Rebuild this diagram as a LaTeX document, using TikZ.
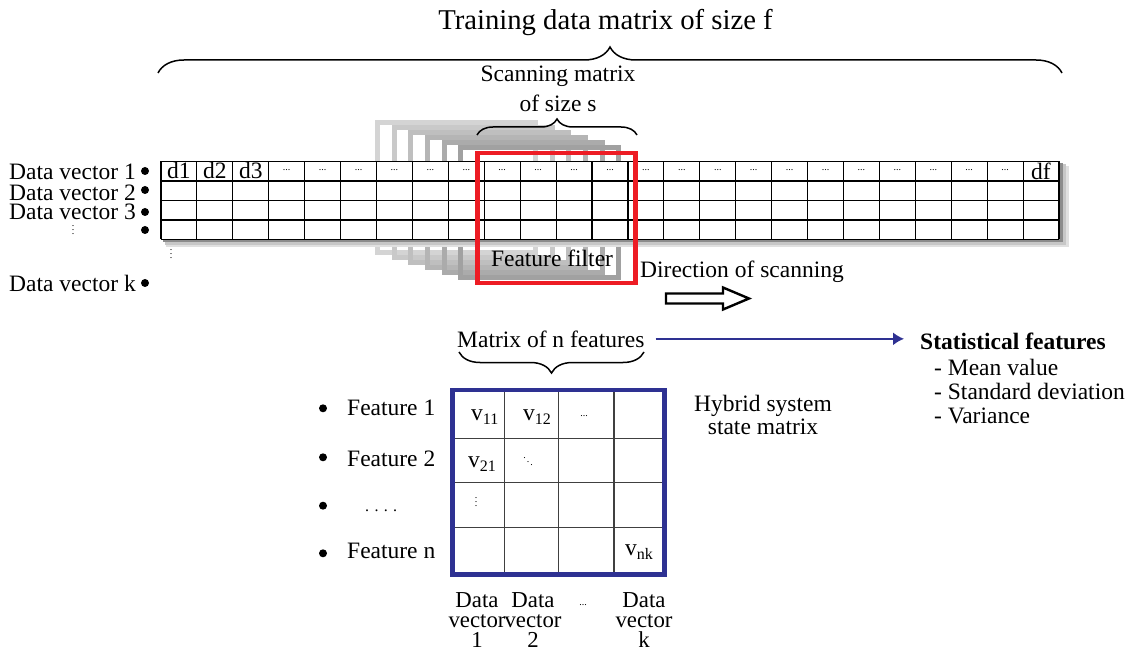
\documentclass[tikz,border=0pt]{standalone}
\usepackage{fontspec}
\setmainfont{Liberation Serif}
\usetikzlibrary{decorations.pathreplacing,arrows.meta}
\definecolor{fred}{RGB}{237,28,36}
\definecolor{mblue}{RGB}{46,49,146}
\newcommand\vsub[2]{#1\raisebox{-4pt}{\fontsize{16}{16}\selectfont #2}}
\newcommand\myvdots{\vbox{\baselineskip 4pt \lineskiplimit 0pt \hbox{.}\hbox{.}\hbox{.}}}
\newcommand\myddots{\mbox{\raisebox{7pt}{.}\kern1pt\raisebox{3.5pt}{.}\kern1pt\raisebox{0pt}{.}}}
\begin{document}
\begin{tikzpicture}[x=1pt,y=-1pt,
  txt/.style={font=\fontsize{23.5}{24}\selectfont, inner sep=0pt},
  bigtxt/.style={font=\fontsize{28.7}{30}\selectfont, inner sep=0pt},
  lbl/.style={font=\fontsize{22.8}{20}\selectfont, inner sep=0pt, align=center},
  hdots/.style={font=\fontsize{10}{10}\selectfont, inner sep=0pt},
  bul/.style={circle, fill=black, inner sep=0pt, minimum size=8pt},
  bracestyle/.style={decorate, decoration={brace, amplitude=#1}, line width=1.5pt},
  gridline/.style={black, line width=1.1pt},
  bluearrow/.style={mblue, line width=1.8pt, -{Latex[length=11pt,width=13pt]}},
]
\useasboundingbox (0,0) rectangle (1135,652);

% title and brace
\node[bigtxt, anchor=base] (title) at (605.5,30) {Training data matrix of size f};
\draw[bracestyle=26pt] (158,73) -- (1062,73);

% scanning matrix label and brace
\node[txt, align=center, font=\fontsize{23.5}{30}\selectfont, anchor=north] (scan) at (558,66) {Scanning matrix\\of size s};

% gray stacked frames
\foreach \k/\c in {6/17,5/21,4/25,3/29,2/33,1/37}
  \draw[draw=black!\c, line width=5pt] ({477.5-16.67*\k},{153-5.08*\k}) rectangle ++(158,130);

\draw[bracestyle=16pt] (477,135) -- (637,135);

% shadow of the data grid
\fill[black!12] (166,166) rectangle (1069,247);
\fill[black!22] (164.5,164.5) rectangle (1066,245);
\fill[black!45] (162.5,163) rectangle (1062.5,242.5);
\fill[white] (161,161.5) rectangle (1059,239.5);

% data grid
\foreach \i in {0,...,25}
  \draw[gridline] ({161+35.92*\i},161.5) -- ({161+35.92*\i},239.5);
\foreach \y in {161.5,181,200.5,220,239.5}
  \draw[gridline] (161,\y) -- (1059,\y);
\foreach \i/\t in {1/d1,2/d2,3/d3}
  \node[txt, anchor=base] (c\i) at ({161+35.92*(\i-0.5)},179) {\t};
\foreach \i in {4,...,24}
  \node[hdots] (c\i) at ({161+35.92*(\i-0.5)},170.5) {...};
\node[txt, anchor=base] (c25) at (1041,180) {df};

% feature filter
\draw[fred, line width=4.5pt] (477.5,153) rectangle (635.5,283);
\node[txt, anchor=base] (filt) at (552,267) {Feature filter};

% data vector labels
\node[txt, anchor=base east] (dv1) at (136,180) {Data vector 1};
\node[txt, anchor=base east] (dv2) at (136,200.5) {Data vector 2};
\node[txt, anchor=base east] (dv3) at (136,220) {Data vector 3};
\node[txt, anchor=base east] (dvk) at (136,291.5) {Data vector k};
\node[bul] (b1) at (145,171) {};
\node[bul] (b2) at (145,190) {};
\node[bul] (b3) at (145,212) {};
\node[bul] (b4) at (145,230) {};
\node[bul] (bk) at (145,283) {};
\node[hdots] (vd1) at (73,230) {\myvdots};
\node[hdots] (vd2) at (171,254) {\myvdots};

% direction of scanning
\node[txt, anchor=base west] (dir) at (640,278) {Direction of scanning};
\draw[line width=2.4pt, fill=white, line join=miter]
  (666,293.5) -- (723,293.5) -- (723,287.5) -- (749,298.5) -- (723,309.5) -- (723,303.5) -- (666,303.5) -- cycle;

% matrix of n features
\node[txt, anchor=base west] (mnf) at (457,347) {Matrix of n features};
\draw[bracestyle=21pt] (644,352) -- (459,352);
\node[txt, anchor=base west, font=\bfseries\fontsize{23.5}{24}\selectfont] (stat) at (920,349) {Statistical features};
\node[txt, anchor=north west, align=left] (statlist) at (934,359) {- Mean value\\- Standard deviation\\- Variance};
\draw[bluearrow] ([xshift=11pt]mnf.east) -- ([xshift=-16pt]mnf.east -| stat.west);

% hybrid state matrix
\draw[black!75, line width=1.1pt] (504.3,390) -- (504.3,574.5) (558.7,390) -- (558.7,574.5) (614,390) -- (614,574.5)
  (452.5,438.3) -- (664.5,438.3) (452.5,482.3) -- (664.5,482.3) (452.5,527.3) -- (664.5,527.3);
\draw[mblue, line width=4.5pt] (452.5,390) rectangle (664.5,574.5);
\node[txt, anchor=base west] (v11) at (471,420) {\vsub{v}{11}};
\node[txt, anchor=base west] (v12) at (523,420) {\vsub{v}{12}};
\node[hdots] (m13) at (584,416) {...};
\node[txt, anchor=base west] (v21) at (468,467) {\vsub{v}{21}};
\node[hdots] (m22) at (528,462) {\myddots};
\node[hdots] (m31) at (476,502) {\myvdots};
\node[txt, anchor=base west] (vnk) at (625,555) {\vsub{v}{nk}};

\node[txt, anchor=north, align=center, font=\fontsize{23.5}{23}\selectfont] (hyb) at (763,395) {Hybrid system\\state matrix};

% feature labels
\node[bul] (fb1) at (323,408.3) {};
\node[bul] (fb2) at (323,457.3) {};
\node[bul] (fb3) at (323,505.7) {};
\node[bul] (fb4) at (323,553.3) {};
\node[txt, anchor=base west] (f1) at (347,415) {Feature 1};
\node[txt, anchor=base west] (f2) at (347,466) {Feature 2};
\node[txt, anchor=base west, font=\fontsize{16}{16}\selectfont] (f3) at (365,511) {. . . .};
\node[txt, anchor=base west] (fn) at (347,558) {Feature n};

% column labels
\node[lbl, anchor=north] (col1) at (477,592) {Data\\vector\\1};
\node[lbl, anchor=north] (col2) at (533,592) {Data\\vector\\2};
\node[hdots] (col3) at (583,605) {...};
\node[lbl, anchor=north] (colk) at (644,592) {Data\\vector\\k};
\end{tikzpicture}
\end{document}
